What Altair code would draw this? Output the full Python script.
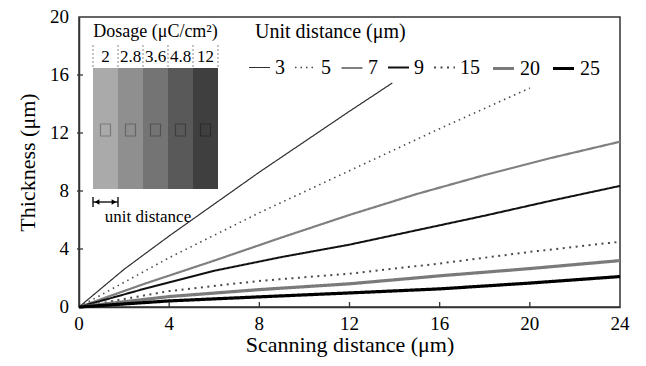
import altair as alt
import pandas as pd

# ---------------- data ----------------
unit_distances = ["3", "5", "7", "9", "15", "20", "25"]

x_3 = [0, 2, 4, 6, 8, 10, 12, 13.9]
y_3 = [0, 2.6, 4.9, 7.1, 9.3, 11.4, 13.5, 15.45]

x_5 = [0, 4, 8, 12, 16, 20]
y_5 = [0, 3.4, 6.5, 9.4, 12.3, 15.1]

x_7 = [0, 3, 6, 9, 12, 15, 18, 21, 24]
y_7 = [0, 1.65, 3.2, 4.8, 6.35, 7.8, 9.1, 10.3, 11.4]

x_9 = [0, 3, 6, 9, 12, 15, 18, 21, 24]
y_9 = [0, 1.3, 2.5, 3.45, 4.3, 5.3, 6.3, 7.35, 8.35]

x_15 = [0, 4, 8, 12, 16, 20, 24]
y_15 = [0, 1.1, 1.8, 2.3, 3.0, 3.8, 4.5]

x_20 = [0, 4, 8, 12, 16, 20, 24]
y_20 = [0, 0.72, 1.2, 1.6, 2.15, 2.65, 3.2]

x_25 = [0, 4, 8, 12, 16, 20, 24]
y_25 = [0, 0.42, 0.7, 0.97, 1.25, 1.65, 2.1]

x_ticks = [0, 4, 8, 12, 16, 20, 24]
y_ticks = [0, 4, 8, 12, 16, 20]

dosage_labels = ["2", "2.8", "3.6", "4.8", "12"]

# ---------------- styles ----------------
line_colors = ["#2e2e2e", "#4a4a4a", "#808080", "#111111", "#4a4a4a", "#7a7a7a", "#000000"]
line_widths = [1.2, 1.6, 2.2, 2.0, 2.0, 3.2, 3.2]
line_dashes = [[1, 0], [1.5, 4], [1, 0], [1, 0], [2, 4.5], [1, 0], [1, 0]]
dosage_grays = ["#aaaaaa", "#8f8f8f", "#747474", "#595959", "#3f3f3f"]
dosage_square_strokes = ["#7a7a7a", "#666666", "#525252", "#3e3e3e", "#2c2c2c"]

FONT = "Liberation Serif"
W, H = 541, 290

series = {
    "3": (x_3, y_3), "5": (x_5, y_5), "7": (x_7, y_7), "9": (x_9, y_9),
    "15": (x_15, y_15), "20": (x_20, y_20), "25": (x_25, y_25),
}
rows = []
for u in unit_distances:
    xs, ys = series[u]
    for xv, yv in zip(xs, ys):
        rows.append({"unit": u, "x": xv, "y": yv})
df = pd.DataFrame(rows)

leg = alt.Legend(
    title=None, orient="none", legendX=169, legendY=39, direction="horizontal",
    gridAlign="none", symbolType="stroke", symbolSize=441, labelFont=FONT, labelFontSize=20,
    labelColor="black", labelOffset=4, columnPadding=6, symbolStrokeWidth=2,
)

xscale = alt.Scale(domain=[0, 24], nice=False, zero=True)
yscale = alt.Scale(domain=[0, 20], nice=False, zero=True)

x_axis = alt.Axis(values=x_ticks, title="Scanning distance (μm)", labels=False, titlePadding=27,
                  grid=False, ticks=False, tickSize=0,
                  titleFont=FONT, titleFontSize=22, titleColor="black", titleFontWeight="normal",
                  domainColor="#333", domainWidth=1.5)
y_axis = alt.Axis(values=y_ticks, title="Thickness (μm)", labels=False, titlePadding=40,
                  grid=False, ticks=False, tickSize=0,
                  titleFont=FONT, titleFontSize=22, titleColor="black", titleFontWeight="normal",
                  domainColor="#333", domainWidth=1.5)

lines = alt.Chart(df).mark_line(strokeCap="butt").encode(
    x=alt.X("x:Q", scale=xscale, axis=x_axis),
    y=alt.Y("y:Q", scale=yscale, axis=y_axis),
    color=alt.Color("unit:N", sort=unit_distances,
                    scale=alt.Scale(domain=unit_distances, range=line_colors), legend=leg),
    strokeWidth=alt.StrokeWidth("unit:N", sort=unit_distances,
                                scale=alt.Scale(type="ordinal", domain=unit_distances, range=line_widths),
                                legend=leg),
    strokeDash=alt.StrokeDash("unit:N", sort=unit_distances,
                              scale=alt.Scale(domain=unit_distances, range=line_dashes), legend=leg),
    order="x:Q",
)

xt_df = pd.DataFrame({"t": x_ticks, "lab": [str(v) for v in x_ticks]})
yt_df = pd.DataFrame({"t": y_ticks, "lab": [str(v) for v in y_ticks]})

xt = alt.Chart(xt_df[1:-1]).mark_rule(color="#333", strokeWidth=1.3).encode(
    x=alt.X("t:Q", scale=xscale, axis=x_axis), y=alt.value(H), y2=alt.value(H - 5))
yt = alt.Chart(yt_df[1:-1]).mark_rule(color="#333", strokeWidth=1.3).encode(
    y=alt.Y("t:Q", scale=yscale, axis=y_axis), x=alt.value(-2), x2=alt.value(4))
xlab = alt.Chart(xt_df).mark_text(font=FONT, fontSize=19, color="black", baseline="top").encode(
    x=alt.X("t:Q", scale=xscale, axis=x_axis), y=alt.value(H + 8), text="lab:N")
ylab = alt.Chart(yt_df).mark_text(font=FONT, fontSize=19, color="black", baseline="middle", align="right").encode(
    y=alt.Y("t:Q", scale=yscale, axis=y_axis), x=alt.value(-10), text="lab:N")

# ---------------- inset schematic (pixel layout) ----------------
inset_left, col_w = 14, 25
rect_top, rect_bottom = 51, 172
inset = pd.DataFrame({
    "label": dosage_labels,
    "gray": dosage_grays,
    "sq": dosage_square_strokes,
    "x0": [inset_left + i * col_w for i in range(len(dosage_labels))],
    "x1": [inset_left + (i + 1) * col_w for i in range(len(dosage_labels))],
    "xc": [inset_left + (i + 0.5) * col_w for i in range(len(dosage_labels))],
})
rects = alt.Chart(inset).mark_rect().encode(
    x=alt.X("x0:Q", scale=None, axis=None), x2="x1:Q",
    y=alt.value(rect_top), y2=alt.value(rect_bottom),
    fill=alt.Fill("gray:N", scale=None))
squares = alt.Chart(inset).transform_calculate(
    a="datum.xc - 5", b="datum.xc + 5").mark_rect(fillOpacity=0, strokeWidth=1.2).encode(
    x=alt.X("a:Q", scale=None, axis=None), x2="b:Q",
    y=alt.value(107), y2=alt.value(119),
    stroke=alt.Stroke("sq:N", scale=None))
seps = alt.Chart(pd.DataFrame({"sx": [inset_left + i * col_w for i in range(len(dosage_labels) + 1)]})).mark_rule(
    color="#888", strokeDash=[2, 2], strokeWidth=1).encode(
    x=alt.X("sx:Q", scale=None, axis=None), y=alt.value(28), y2=alt.value(rect_top))
dlabels = alt.Chart(inset).mark_text(font=FONT, fontSize=17, color="black", baseline="middle").encode(
    x=alt.X("xc:Q", scale=None, axis=None), y=alt.value(40), text="label:N")

one = alt.Data(values=[{}])
dosage_title = alt.Chart(one).mark_text(font=FONT, fontSize=18, color="black", baseline="middle").encode(
    x=alt.value(76.5), y=alt.value(15), text=alt.value("Dosage (μC/cm²)"))
unit_title = alt.Chart(one).mark_text(font=FONT, fontSize=20, color="black", baseline="middle", align="left").encode(
    x=alt.value(176), y=alt.value(15), text=alt.value("Unit distance (μm)"))
arrow = alt.Chart(one).mark_rule(color="black", strokeWidth=1.3).encode(
    x=alt.value(inset_left), x2=alt.value(inset_left + col_w), y=alt.value(185))
bars = alt.Chart(pd.DataFrame({"bx": [inset_left, inset_left + col_w]})).mark_rule(color="black", strokeWidth=1.3).encode(
    x=alt.X("bx:Q", scale=None, axis=None), y=alt.value(180), y2=alt.value(190))
heads = alt.Chart(pd.DataFrame({"hx": [inset_left + 4, inset_left + col_w - 4],
                                "shape": ["triangle-left", "triangle-right"]})).mark_point(
    filled=True, color="black", size=30, opacity=1).encode(
    x=alt.X("hx:Q", scale=None, axis=None), y=alt.value(185),
    shape=alt.Shape("shape:N", scale=None))
unit_text = alt.Chart(one).mark_text(font=FONT, fontSize=17, color="black", baseline="middle").encode(
    x=alt.value(69), y=alt.value(200), text=alt.value("unit distance"))

chart = alt.layer(
    rects, squares, seps, dlabels, dosage_title, unit_title, arrow, bars, heads, unit_text,
    lines, xt, yt, xlab, ylab,
).properties(
    width=W, height=H,
    background="white",
    autosize=alt.AutoSizeParams(type="none"),
    padding={"left": 71, "top": 9, "right": 10, "bottom": 51},
).configure(
    view={"stroke": "#333", "strokeWidth": 1.5},
)

chart.save("out.html", embed_options={"renderer": "svg", "actions": False})
